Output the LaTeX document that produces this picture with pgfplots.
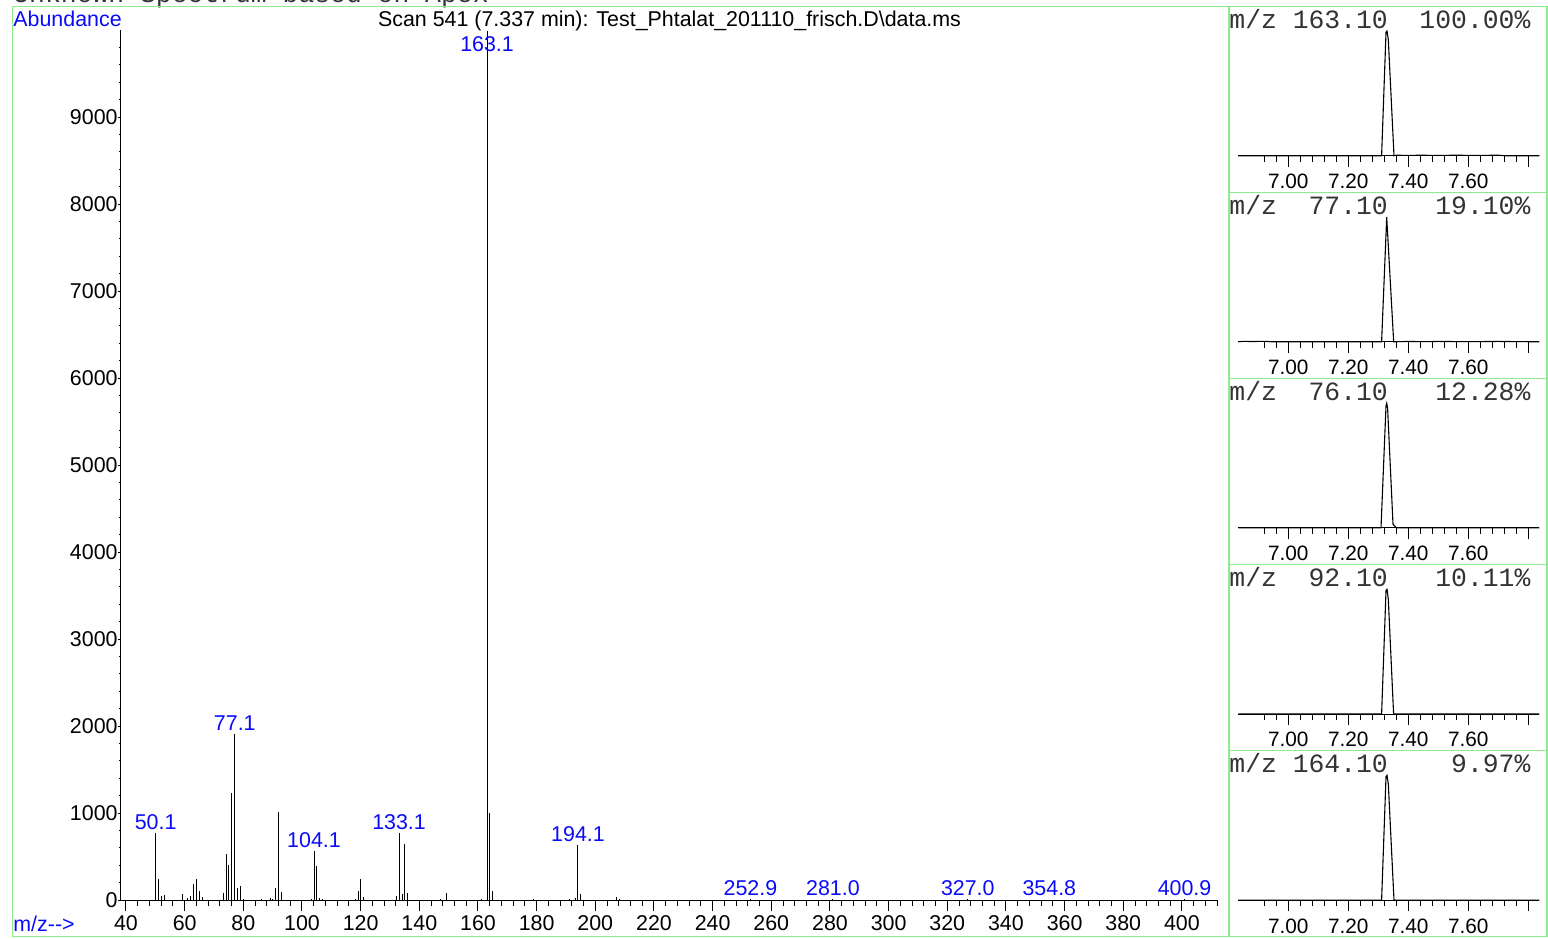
\documentclass[border=0pt]{standalone}
\usepackage{fontspec}
\setmainfont{Liberation Sans}
\newfontfamily\cour{Liberation Mono}
\usepackage{pgfplots}
\pgfplotsset{compat=1.18}
\definecolor{frame}{RGB}{140,236,140}
\definecolor{lbl}{RGB}{10,10,250}
\newcommand\fs{\fontsize{10.7}{12}\selectfont}
\newcommand\fc{\fontsize{10.4}{12}\selectfont}
\newcommand\mono{\cour\fontsize{13.2}{15}\selectfont}

\pgfplotsset{
  chrom/.style={
    scale only axis, width=150.5pt, height=62.35pt,
    xmin=6.8333, xmax=7.8367, ymin=0, ymax=1,
    axis x line=bottom, axis y line=none,
    axis line style={-, black, line width=0.5pt},
    xtick={7.0,7.2,7.4,7.6,7.8}, xticklabels={7.00,7.20,7.40,7.60,{}},
    minor xtick={6.92,6.96,7.04,7.08,7.12,7.16,7.24,7.28,7.32,7.36,7.44,7.48,7.52,7.56,7.64,7.68,7.72,7.76},
    tick align=outside, major tick length=5.5pt, minor tick length=3pt,
    tick style={black, line width=0.5pt},
    xticklabel style={font=\fc, anchor=north, inner sep=0pt, yshift=-3.5pt},
    /pgf/number format/assume math mode=true,
    clip=false,
  },
  trace/.style={black, line width=0.55pt, mark=none},
}

\begin{document}
\begin{tikzpicture}
% ---------------- main spectrum ----------------
\begin{axis}[
  at={(60.5pt,-450pt)}, anchor=south west, scale only axis,
  width=548.5pt, height=435pt,
  xmin=38.3, xmax=412.3, ymin=0, ymax=10000,
  axis x line=bottom, axis y line=none,
  axis line style={-, black, line width=0.5pt},
  xtick={40,60,...,400}, minor xtick={40,44,...,412},
  tick align=outside, major tick length=5.5pt, minor tick length=3pt,
  tick style={black, line width=0.5pt},
  xticklabel style={font=\fs, anchor=north, inner sep=0pt, yshift=-2pt},
  /pgf/number format/assume math mode=true,
  clip=false,
]
\addplot[ycomb, black, line width=0.5pt, mark=none] coordinates {
(50.1,769)(51.1,242)(52.1,46)(53.1,54)(59.1,73)(61.1,19)(62.1,46)(63.1,185)
(64.1,242)(65.1,108)(66.1,38)(73.1,85)(74.1,531)(75.1,404)(76.1,1226)(77.1,1907)
(78.1,142)(79.1,162)(80.1,12)(86.1,8)(89.1,19)(90.1,15)(91.1,138)(92.1,1009)
(93.1,92)(103.1,12)(104.1,562)(105.1,392)(106.1,27)(107.1,15)(118.1,8)(119.1,108)
(120.1,238)(121.1,35)(132.1,42)(133.1,773)(134.1,69)(135.1,642)(136.1,81)(147.1,12)
(149.1,81)(161.1,12)(163.1,9985)(164.1,995)(165.1,103)(179.1,11)(191.1,11)(193.1,27)
(194.1,632)(195.1,65)(207.1,31)(208.1,11)(252.9,8)(268.9,5)(281.0,8)(327.0,6)
(341.0,4)(354.8,5)(400.9,6)
};
\addplot[draw=none, mark=none, nodes near coords, point meta=explicit symbolic,
  every node near coord/.style={anchor=south, inner sep=0pt, yshift=1.5pt, font=\fs, text=lbl}]
coordinates {
(50.1,769)[50.1] (77.1,1907)[77.1] (104.1,562)[104.1] (133.1,773)[133.1]
(194.1,632)[194.1] (252.9,8)[252.9] (281.0,8)[281.0] (327.0,6)[327.0]
(354.8,5)[354.8] (400.9,6)[400.9]
};
\node[anchor=south, inner sep=0pt, font=\fs, text=lbl] at (axis cs:163.1,9747) {163.1};
\end{axis}
% y axis of the spectrum
\begin{axis}[
  at={(60.5pt,-450pt)}, anchor=south west, scale only axis,
  width=548.5pt, height=435pt,
  xmin=38.3, xmax=412.3, ymin=0, ymax=10000,
  axis x line=none, axis y line=left,
  axis line style={-, black, line width=0.5pt},
  ytick={0,1000,...,9000}, yticklabels={0,1000,2000,3000,4000,5000,6000,7000,8000,9000},
  minor ytick={200,400,...,9800},
  scaled y ticks=false,
  tick align=outside, major tick length=1.5pt, minor tick length=1pt,
  tick style={black, line width=0.5pt},
  yticklabel style={font=\fs, anchor=east, inner sep=0pt},
  /pgf/number format/assume math mode=true,
]
\end{axis}
% ---------------- ion chromatograms ----------------
\begin{axis}[chrom, at={(619.15pt,-77.85pt)}, anchor=south west]
\addplot[trace] coordinates {(6.8333,0)(7.311,0)(7.3257,0.99)(7.329,1.0)(7.3334,0.93)(7.3523,0)(7.36,0.004)(7.40,0.002)(7.44,0.004)(7.50,0.002)(7.56,0.004)(7.62,0.002)(7.70,0.004)(7.72,0)(7.8367,0)};
\end{axis}
\begin{axis}[chrom, at={(619.15pt,-170.9pt)}, anchor=south west]
\addplot[trace] coordinates {(6.8333,0)(6.85,0.004)(6.88,0.002)(6.92,0.004)(6.95,0)(7.311,0)(7.328,1.0)(7.3512,0)(7.40,0.003)(7.45,0.001)(7.50,0.003)(7.60,0.001)(7.70,0.003)(7.8367,0)};
\end{axis}
\begin{axis}[chrom, at={(619.15pt,-263.95pt)}, anchor=south west]
\addplot[trace] coordinates {(6.8333,0)(7.309,0)(7.3257,0.98)(7.328,1.0)(7.331,0.96)(7.349,0.03)(7.36,0)(7.8367,0)};
\end{axis}
\begin{axis}[chrom, at={(619.15pt,-357pt)}, anchor=south west]
\addplot[trace] coordinates {(6.8333,0)(7.311,0)(7.3257,0.99)(7.329,1.0)(7.3334,0.92)(7.351,0)(7.8367,0)};
\end{axis}
\begin{axis}[chrom, at={(619.15pt,-450.05pt)}, anchor=south west]
\addplot[trace] coordinates {(6.8333,0)(7.311,0)(7.3257,0.99)(7.329,1.0)(7.3334,0.93)(7.3523,0)(7.8367,0)};
\end{axis}
% ---------------- texts and frames (pixel units) ----------------
\begin{scope}[x=0.5pt,y=-0.5pt]
\node[anchor=base west, inner sep=0pt, font=\mono, text=black!80] at (13,2) {Unknown Spectrum based on Apex};
\node[anchor=base west, inner sep=0pt, font=\fs, text=lbl] at (13,26.7) {Abundance};
\node[anchor=base, inner sep=0pt, font=\fs] at (669.5,26.7) {Scan 541 (7.337 min): Test\_Phtalat\_201110\_frisch.D\textbackslash data.ms};
\node[anchor=base west, inner sep=0pt, font=\fs, text=lbl] at (13,931) {m/z-{}-{}>};
\node[anchor=base west, inner sep=0pt, font=\mono, text=black!80] at (1229,28.3) {m/z~163.10~~100.00\%};
\node[anchor=base west, inner sep=0pt, font=\mono, text=black!80] at (1229,214.4) {m/z~~77.10~~~19.10\%};
\node[anchor=base west, inner sep=0pt, font=\mono, text=black!80] at (1229,400.5) {m/z~~76.10~~~12.28\%};
\node[anchor=base west, inner sep=0pt, font=\mono, text=black!80] at (1229,586.6) {m/z~~92.10~~~10.11\%};
\node[anchor=base west, inner sep=0pt, font=\mono, text=black!80] at (1229,772.7) {m/z~164.10~~~~9.97\%};
\draw[frame, line width=0.6pt] (12.7,6.7) rectangle (1547,936.7);
\draw[frame, line width=0.6pt] (1229,6.7) -- (1229,936.7);
\foreach \yy in {192.3,378.3,564.3,750.3} \draw[frame, line width=0.6pt] (1229,\yy) -- (1547,\yy);
\end{scope}
\pgfresetboundingbox
\path[use as bounding box] (0,0) rectangle (774pt,-469pt);
\end{tikzpicture}
\end{document}
